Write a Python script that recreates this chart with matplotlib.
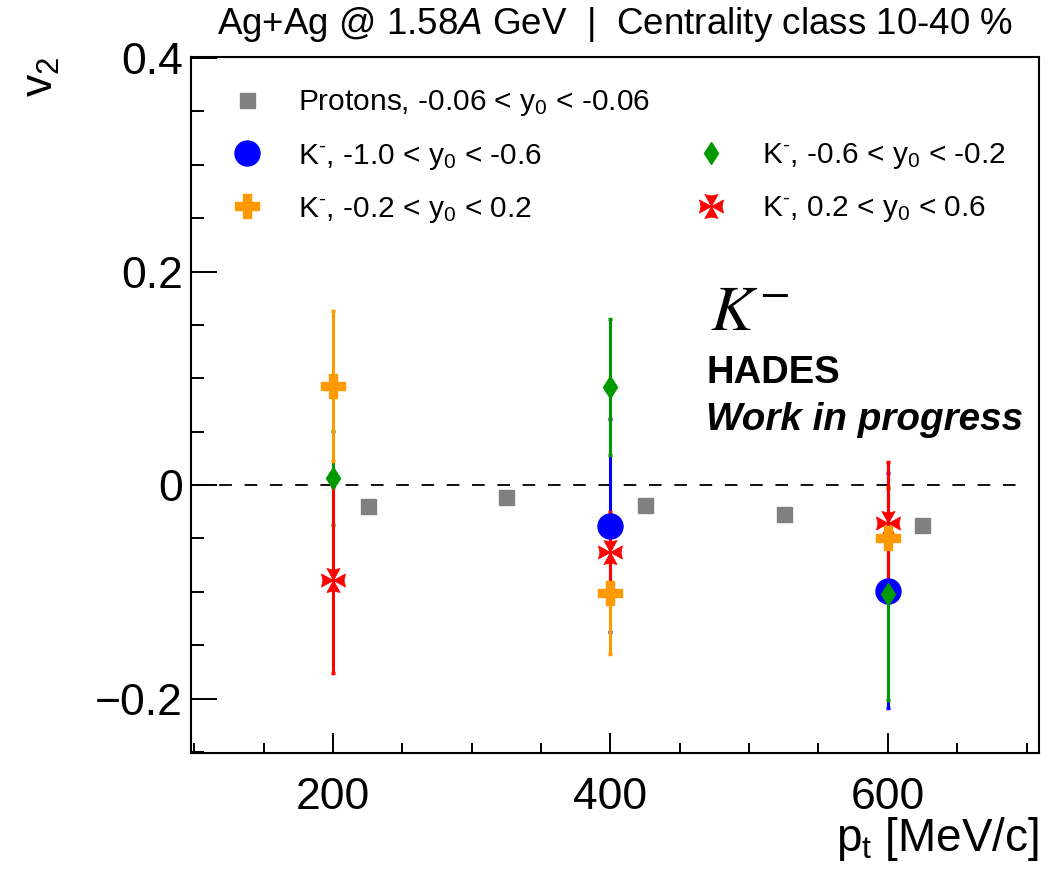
import numpy as np
import matplotlib
matplotlib.use("Agg")
import matplotlib.pyplot as plt
from matplotlib.path import Path
from matplotlib.lines import Line2D
from matplotlib.ticker import MultipleLocator

plt.rcParams['font.family'] = ['Liberation Sans', 'DejaVu Sans']
plt.rcParams['mathtext.fontset'] = 'custom'
plt.rcParams['mathtext.rm'] = 'Liberation Sans'
plt.rcParams['mathtext.it'] = 'Liberation Sans:italic'
plt.rcParams['mathtext.bf'] = 'Liberation Sans:bold'

# ---------------- data ----------------
proton_pt = [225, 325, 425, 525, 625]
proton_v2 = [-0.020, -0.011, -0.019, -0.027, -0.037]

km_m10_pt = [400, 600]
km_m10_v2 = [-0.038, -0.099]
km_m10_err = [0.100, 0.110]

km_m06_pt = [200, 400, 600]
km_m06_v2 = [0.007, 0.092, -0.102]
km_m06_err = [0.044, 0.064, 0.099]

km_m02_pt = [200, 400, 600]
km_m02_v2 = [0.093, -0.101, -0.050]
km_m02_err = [0.070, 0.057, 0.048]

km_p02_pt = [200, 400, 600]
km_p02_v2 = [-0.089, -0.063, -0.036]
km_p02_err = [0.087, 0.038, 0.058]

labels = [
    'Protons, -0.06 < y$_{\\mathrm{0}}$ < -0.06',
    'K$^{\\text{-}}$, -1.0 < y$_{\\mathrm{0}}$ < -0.6',
    'K$^{\\text{-}}$, -0.6 < y$_{\\mathrm{0}}$ < -0.2',
    'K$^{\\text{-}}$, -0.2 < y$_{\\mathrm{0}}$ < 0.2',
    'K$^{\\text{-}}$, 0.2 < y$_{\\mathrm{0}}$ < 0.6',
]

# ---------------- custom marker (four wedges) ----------------
def wedge_marker():
    verts, codes = [], []
    base = [(0.0, 0.0), (0.55, 1.0), (0.0, 0.88), (-0.55, 1.0), (0.0, 0.0)]
    for ang in [0, 90, 180, 270]:
        a = np.deg2rad(ang)
        c, s = np.cos(a), np.sin(a)
        pts = [(c * x - s * y, s * x + c * y) for x, y in base]
        verts += pts
        codes += [Path.MOVETO, Path.LINETO, Path.LINETO, Path.LINETO, Path.CLOSEPOLY]
    return Path(verts, codes)

star4 = wedge_marker()

GRAY = '#808080'
BLUE = '#0000ff'
GREEN = '#009900'
ORANGE = '#ff9900'
RED = '#ff0000'

fig = plt.figure(figsize=(10.61, 8.75), dpi=100)
ax = fig.add_axes([0.180, 0.1394, 0.799, 0.7955])

ax.set_xlim(97.7, 708.8)
ax.set_ylim(-0.251, 0.401)

ax.hlines(0, 100, 700, colors='black', linestyles=(0, (7, 7)), linewidth=1.3, zorder=1)

ebkw = dict(ls='none', elinewidth=2.2, capsize=1.6, capthick=2.5)
ax.plot(proton_pt, proton_v2, ls='none', marker='s', ms=10.8, color=GRAY, mec=GRAY, zorder=2)
ax.errorbar(km_m10_pt, km_m10_v2, yerr=km_m10_err, fmt='o', ms=18, color=BLUE, **ebkw)
ax.errorbar(km_m06_pt, km_m06_v2, yerr=km_m06_err, fmt='d', ms=11.2, color=GREEN, **ebkw)
ax.errorbar(km_m02_pt, km_m02_v2, yerr=km_m02_err, fmt='P', ms=17.3, color=ORANGE, **ebkw)
ax.errorbar(km_p02_pt, km_p02_v2, yerr=km_p02_err, fmt='none', ecolor=RED, elinewidth=2.2,
            capsize=1.6, capthick=2.5)
ax.plot(km_p02_pt, km_p02_v2, ls='none', marker=star4, ms=17.3, color=RED, mec=RED, mew=0.5)

# ---------------- axes style ----------------
for sp in ax.spines.values():
    sp.set_linewidth(1.5)
ax.xaxis.set_major_locator(MultipleLocator(200))
ax.xaxis.set_minor_locator(MultipleLocator(50))
ax.yaxis.set_major_locator(MultipleLocator(0.2))
ax.yaxis.set_minor_locator(MultipleLocator(0.05))
ax.tick_params(axis='both', which='both', direction='in', top=False, right=False, width=1.4)
ax.tick_params(axis='x', which='major', length=14.4, labelsize=32, pad=17)
ax.tick_params(axis='x', which='minor', length=7.2)
ax.tick_params(axis='y', which='major', length=18.7, labelsize=32, pad=6)
ax.tick_params(axis='y', which='minor', length=9.4)
ax.set_yticks([-0.2, 0, 0.2, 0.4])
ax.set_yticklabels(['\u22120.2', '0', '0.2', '0.4'])

ax.set_xlabel('p$_{\\mathrm{t}}$ [MeV/c]', fontsize=33, loc='right')
ax.xaxis.set_label_coords(1.0, -0.089)
ax.set_ylabel('v$_{\\mathrm{2}}$', fontsize=32, loc='top')
ax.yaxis.set_label_coords(-0.152, 1.0)

# ---------------- legend ----------------
h_p = Line2D([], [], ls='none', marker='s', ms=10.8, color=GRAY)
h_b = Line2D([], [], ls='none', marker='o', ms=18, color=BLUE)
h_g = Line2D([], [], ls='none', marker='d', ms=11.2, color=GREEN)
h_o = Line2D([], [], ls='none', marker='P', ms=17.3, color=ORANGE)
h_r = Line2D([], [], ls='none', marker=star4, ms=17.3, color=RED, mec=RED, mew=0.5)

legkw = dict(frameon=False, fontsize=21.5, handlelength=1.5, handletextpad=0.95,
             labelspacing=0.78, borderpad=0, borderaxespad=0, loc='upper left')
leg1 = ax.legend([h_p, h_b, h_o], [labels[0], labels[1], labels[3]],
                 bbox_to_anchor=(0.040, 0.955), **legkw)
ax.add_artist(leg1)
leg2 = ax.legend([h_g, h_r], [labels[2], labels[4]],
                 bbox_to_anchor=(0.587, 0.879), **legkw)

# ---------------- annotations ----------------
ax.text(0.612, 0.608, '$K^{-}$', transform=ax.transAxes, fontsize=46,
        math_fontfamily='stix', ha='left', va='baseline')
ax.text(0.608, 0.532, 'HADES', transform=ax.transAxes, fontsize=27.5,
        fontweight='bold', ha='left', va='baseline')
ax.text(0.608, 0.464, 'Work in progress', transform=ax.transAxes, fontsize=27.8,
        fontweight='bold', fontstyle='italic', ha='left', va='baseline')

fig.text(615 / 1061, 1 - 34 / 875,
         'Ag+Ag @ 1.58$\\mathit{A}$ GeV  |  Centrality class 10-40 %',
         fontsize=26.5, ha='center', va='baseline')

fig.savefig('out.png', dpi=100)
